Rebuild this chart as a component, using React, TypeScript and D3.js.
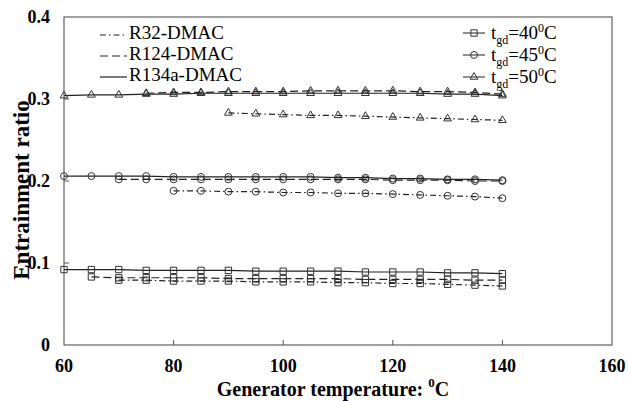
import React from 'react';
import * as d3 from 'd3';

// generator temperatures (°C)
const temps = [60, 65, 70, 75, 80, 85, 90, 95, 100, 105, 110, 115, 120, 125, 130, 135, 140];

// t_gd = 50°C (triangles)
const r134aT50 = [0.304, 0.305, 0.305, 0.306, 0.306, 0.307, 0.307, 0.307, 0.307, 0.307, 0.307, 0.307, 0.307, 0.307, 0.306, 0.306, 0.304];
const r124T50 = [0.307, 0.308, 0.308, 0.309, 0.309, 0.309, 0.310, 0.310, 0.310, 0.310, 0.309, 0.309, 0.308, 0.306];
const r32T50 = [0.283, 0.282, 0.281, 0.280, 0.280, 0.279, 0.278, 0.277, 0.276, 0.275, 0.274];

// t_gd = 45°C (circles)
const r134aT45 = [0.206, 0.206, 0.206, 0.206, 0.205, 0.205, 0.205, 0.205, 0.205, 0.205, 0.204, 0.204, 0.203, 0.203, 0.202, 0.202, 0.201];
const r124T45 = [0.202, 0.202, 0.202, 0.202, 0.202, 0.202, 0.202, 0.202, 0.202, 0.202, 0.201, 0.201, 0.201, 0.200, 0.200];
const r32T45 = [0.188, 0.188, 0.187, 0.187, 0.186, 0.186, 0.185, 0.185, 0.184, 0.183, 0.182, 0.181, 0.179];

// t_gd = 40°C (squares)
const r134aT40 = [0.092, 0.092, 0.092, 0.091, 0.091, 0.091, 0.091, 0.090, 0.090, 0.090, 0.090, 0.089, 0.089, 0.089, 0.088, 0.088, 0.087];
const r124T40 = [0.083, 0.082, 0.082, 0.082, 0.082, 0.081, 0.081, 0.081, 0.081, 0.081, 0.080, 0.080, 0.080, 0.080, 0.079, 0.079];
const r32T40 = [0.079, 0.079, 0.078, 0.078, 0.078, 0.077, 0.077, 0.077, 0.076, 0.076, 0.075, 0.075, 0.074, 0.073, 0.072];

const xTicks = [60, 80, 100, 120, 140, 160];
const yTicks = [0, 0.1, 0.2, 0.3, 0.4];
const fluids = ['R32-DMAC', 'R124-DMAC', 'R134a-DMAC'];
const gdTemps = ['40', '45', '50'];

const dashes: Record<string, string> = {
  'R32-DMAC': '6,3,1.5,3',
  'R124-DMAC': '8,4',
  'R134a-DMAC': '',
};

const markerType: Record<string, d3.SymbolType> = {
  '40': d3.symbolSquare,
  '45': d3.symbolCircle,
  '50': d3.symbolTriangle,
};
const markerSize: Record<string, number> = { '40': 40, '45': 38, '50': 26 };

const series = [
  { fluid: 'R134a-DMAC', gd: '50', values: r134aT50 },
  { fluid: 'R124-DMAC', gd: '50', values: r124T50 },
  { fluid: 'R32-DMAC', gd: '50', values: r32T50 },
  { fluid: 'R134a-DMAC', gd: '45', values: r134aT45 },
  { fluid: 'R124-DMAC', gd: '45', values: r124T45 },
  { fluid: 'R32-DMAC', gd: '45', values: r32T45 },
  { fluid: 'R134a-DMAC', gd: '40', values: r134aT40 },
  { fluid: 'R124-DMAC', gd: '40', values: r124T40 },
  { fluid: 'R32-DMAC', gd: '40', values: r32T40 },
];

const W = 628;
const H = 401;
const serif = { fontFamily: "'Liberation Serif', 'DejaVu Serif', serif" };

export default function App() {
  const x = d3.scaleLinear().domain([60, 160]).range([64, 612]);
  const y = d3.scaleLinear().domain([0, 0.4]).range([345, 17]);

  const line = d3.line<[number, number]>()
    .x(d => x(d[0]))
    .y(d => y(d[1]));

  const pts = (values: number[]) => {
    const start = temps.length - values.length;
    return values.map((v, i) => [temps[start + i], v] as [number, number]);
  };

  const sym = (gd: string) => d3.symbol().type(markerType[gd]).size(markerSize[gd])() || '';

  return (
    <svg width={W} height={H} style={{ position: 'absolute', left: 0, top: 0, background: '#fff' }}>
      {/* frame */}
      <rect x={x(60)} y={y(0.4)} width={x(160) - x(60)} height={y(0) - y(0.4)}
        fill="none" stroke="#555" strokeWidth={1.1} />

      {/* ticks, inward */}
      {xTicks.slice(1, -1).map(t => (
        <line key={'xt' + t} x1={x(t)} x2={x(t)} y1={y(0)} y2={y(0) - 5} stroke="#555" />
      ))}
      {yTicks.slice(1, -1).map(t => (
        <line key={'yt' + t} x1={x(60)} x2={x(60) + 5} y1={y(t)} y2={y(t)} stroke="#555" />
      ))}

      {/* tick labels */}
      {xTicks.map(t => (
        <text key={'xl' + t} x={x(t)} y={372} textAnchor="middle" fontSize={18} fontWeight="bold" style={serif}>{t}</text>
      ))}
      {yTicks.map(t => (
        <text key={'yl' + t} x={50} y={y(t)} dy="0.35em" textAnchor="end" fontSize={18} fontWeight="bold" style={serif}>
          {t === 0 ? '0' : t.toFixed(1)}
        </text>
      ))}

      {/* axis titles */}
      <text x={333} y={396} textAnchor="middle" fontSize={20} fontWeight="bold" style={serif}>
        Generator temperature: <tspan fontSize={13} dy={-9}>0</tspan><tspan dy={9}>C</tspan>
      </text>
      <text transform={`translate(29,190) rotate(-90)`} textAnchor="middle" fontSize={23} fontWeight="bold" style={serif}>
        Entrainment ratio
      </text>

      {/* series */}
      {series.map((s, i) => (
        <g key={'s' + i}>
          <path d={line(pts(s.values)) || ''} fill="none" stroke="#222" strokeWidth={1.2}
            strokeDasharray={dashes[s.fluid]} />
          {pts(s.values).map((p, j) => (
            <path key={j} d={sym(s.gd)} transform={`translate(${x(p[0])},${y(p[1])})`}
              fill="none" stroke="#333" strokeWidth={1} />
          ))}
        </g>
      ))}

      {/* legend: fluids */}
      {fluids.map((f, i) => (
        <g key={'lf' + f} transform={`translate(100,${35 + i * 21})`}>
          <line x1={0} x2={27} y1={0} y2={0} stroke="#222" strokeWidth={1.2} strokeDasharray={dashes[f]} />
          <text x={29} y={4} fontSize={19} style={serif}>{f}</text>
        </g>
      ))}

      {/* legend: t_gd */}
      {gdTemps.map((g, i) => (
        <g key={'lg' + g} transform={`translate(463,${33 + i * 22})`}>
          <line x1={0} x2={22} y1={0} y2={0} stroke="#222" strokeWidth={1} />
          <path d={sym(g)} transform="translate(11,0)" fill="none" stroke="#333" />
          <text x={28} y={6} fontSize={19} style={serif}>
            t<tspan fontSize={12} dy={5}>gd</tspan><tspan dy={-5}>={g}</tspan>
            <tspan fontSize={12} dy={-7}>0</tspan><tspan dy={7}>C</tspan>
          </text>
        </g>
      ))}
    </svg>
  );
}
